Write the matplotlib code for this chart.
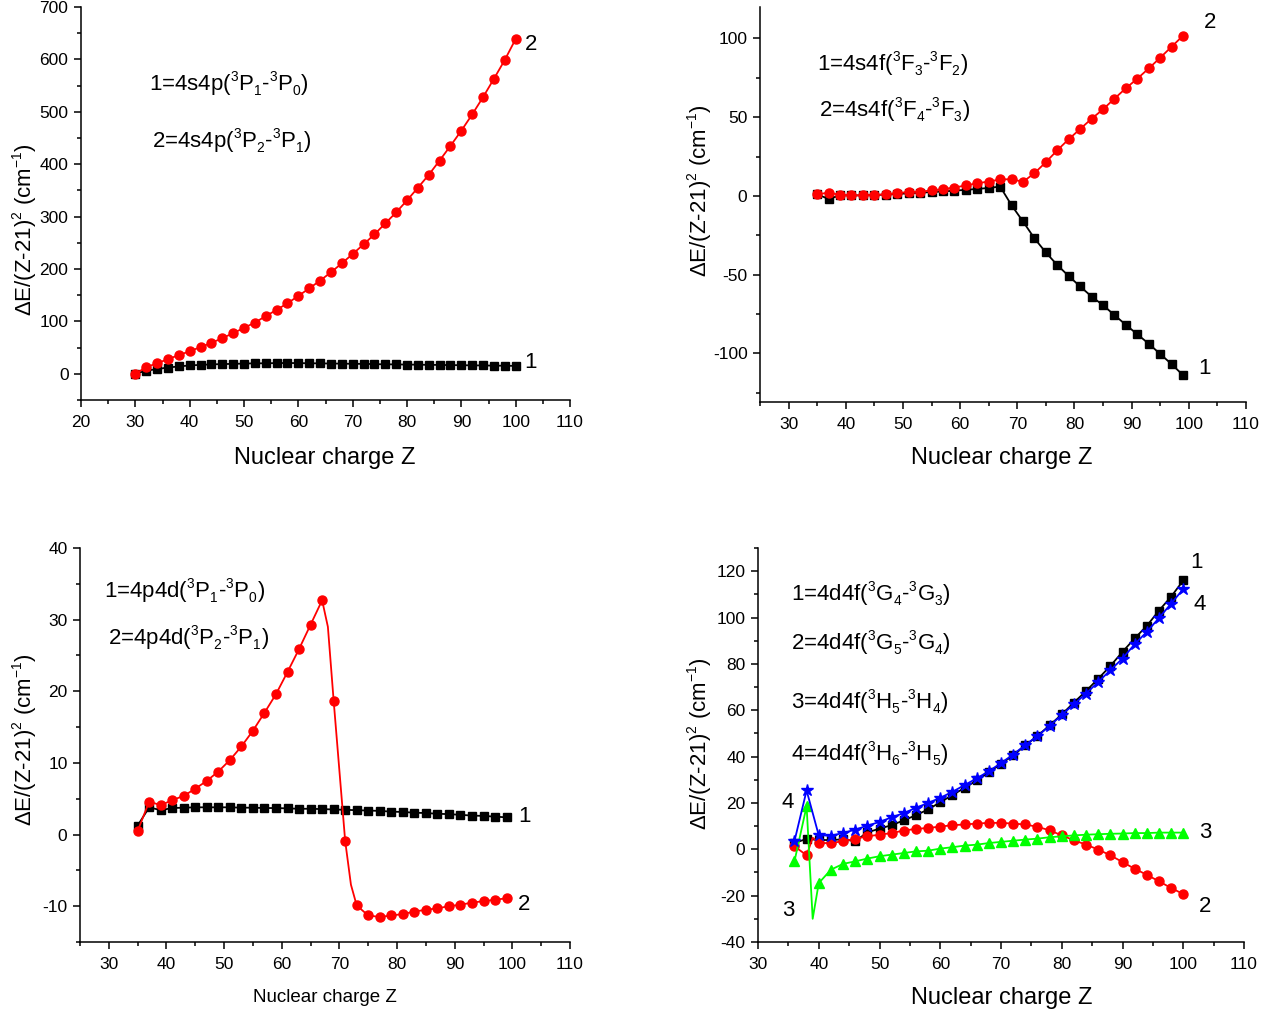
import numpy as np
import matplotlib
matplotlib.use("Agg")
import matplotlib.pyplot as plt
from matplotlib.ticker import MultipleLocator

plt.rcParams['font.family'] = ['Liberation Sans', 'DejaVu Sans']
plt.rcParams['mathtext.fontset'] = 'custom'
plt.rcParams['mathtext.rm'] = 'Liberation Sans'
plt.rcParams['mathtext.it'] = 'Liberation Sans'
plt.rcParams['mathtext.bf'] = 'Liberation Sans'
plt.rcParams['axes.unicode_minus'] = False

# Smaller, lower subscripts like the original (Origin-style)
try:
    import matplotlib._mathtext as _mt
    _mt.SHRINK_FACTOR = 0.62
    _mt.FontConstantsBase.sub1 = 0.42
    _mt.FontConstantsBase.sub2 = 0.6
    _mt.FontConstantsBase.sup1 = 0.78
except Exception:
    pass

# ---------------- Panel 1: 4s4p ----------------
z1 = list(range(30, 101, 2))
p1_s1 = [0, 6, 9, 12, 14, 16, 17, 18, 18.5, 19, 19.5, 20, 20, 20.5, 20.5, 20.5, 20, 20,
         19.5, 19.5, 19, 19, 18.5, 18, 18, 17.5, 17.5, 17, 17, 16.5, 16.5, 16, 16, 15.5, 15.5, 15]
p1_s2 = [0, 12.7, 20, 28, 35.6, 43, 51, 59, 68, 77.5, 87.6, 97.8, 110, 122, 134.6, 148.6,
         163, 177.8, 193.7, 210.8, 228.6, 247, 266, 287, 308, 331, 355, 379.7, 407, 435,
         464, 495, 528, 563, 599, 639]

# ---------------- Panel 2: 4s4f ----------------
z2 = list(range(35, 100, 2))
p2_s1 = [1, -2, 0.3, 0.3, 0.3, 0.5, 0.8, 1.2, 1.6, 2.0, 2.4, 2.8, 3.3, 3.8, 4.4, 5.0, 5.9,
         -6, -16.3, -27, -36, -44, -51, -57.6, -64, -69.5, -75.8, -82, -88, -94, -100.5, -107, -114]
p2_s2 = [1, 2, 0.6, 0.3, 0.3, 0.6, 1.0, 1.7, 2.5, 2.7, 3.4, 4.2, 5.3, 6.6, 8.0, 9.1, 10.4,
         10.6, 8.9, 14.4, 21.4, 29, 36, 42.5, 49, 55, 61.8, 68.4, 74.5, 81, 87.8, 94.8, 101.8]

# ---------------- Panel 3: 4p4d ----------------
z3 = list(range(35, 100, 2))
p3_s1 = [1.25, 3.8, 3.4, 3.7, 3.75, 3.8, 3.8, 3.8, 3.8, 3.75, 3.75, 3.7, 3.7, 3.65, 3.6, 3.6,
         3.55, 3.5, 3.45, 3.4, 3.35, 3.3, 3.2, 3.15, 3.05, 3.0, 2.9, 2.85, 2.75, 2.65, 2.6, 2.5, 2.4]
z3_s2 = [35, 37, 39, 41, 43, 45, 47, 49, 51, 53, 55, 57, 59, 61, 63, 65, 67, 68, 69, 71, 72,
         73, 75, 77, 79, 81, 83, 85, 87, 89, 91, 93, 95, 97, 99]
p3_s2 = [0.5, 4.6, 4.1, 4.8, 5.4, 6.4, 7.5, 8.8, 10.4, 12.3, 14.5, 17.0, 19.6, 22.7, 25.9, 29.3,
         32.7, 29.0, 18.7, -0.9, -7.0, -9.9, -11.3, -11.5, -11.3, -11.1, -10.75, -10.5, -10.3,
         -10.0, -9.8, -9.5, -9.3, -9.1, -8.9]

# ---------------- Panel 4: 4d4f ----------------
z4 = list(range(36, 101, 2))
p4_s1 = [2.7, 4.5, 4.0, 4.0, 4.3, 3.5, 7.3, 8.9, 10.4, 12.5, 14.7, 17.2, 20.3, 23.4, 26.5, 29.7,
         33.2, 36.9, 40.5, 44.8, 48.9, 53.5, 58.2, 63.3, 68.3, 73.6, 79.1, 85.2, 91.0, 96.4,
         103.0, 109.0, 116.0]
z4_s23 = [36, 38, 39] + list(range(40, 101, 2))
p4_s2 = [1.3, -2.6, 5.0, 2.7, 2.7, 3.5, 4.5, 5.6, 6.3, 7.0, 8.1, 8.8, 9.2, 9.8, 10.4, 10.7,
         11.1, 11.4, 11.4, 11.1, 10.7, 9.7, 8.2, 6.0, 3.9, 2.0, -0.1, -2.6, -5.5, -8.4, -11.0,
         -13.8, -16.7, -19.3]
p4_s3 = [-5.2, 18.6, -30.0, -14.6, -8.8, -6.3, -5.2, -4.0, -3.0, -2.3, -1.6, -0.9, -0.6, 0.3,
         0.9, 1.6, 2.0, 2.7, 3.2, 3.7, 4.2, 4.6, 5.2, 5.6, 6.0, 6.3, 6.5, 6.7, 6.8, 7.0, 7.0,
         7.2, 7.2, 7.2]
p4_s4 = [3.5, 25.4, 6.0, 5.9, 7.0, 8.5, 10.2, 11.8, 13.8, 15.6, 17.9, 20.0, 22.2, 24.8, 27.7,
         30.6, 33.7, 37.2, 40.9, 45.0, 48.9, 53.2, 58.0, 62.6, 67.2, 72.2, 77.3, 82.3, 88.5,
         93.8, 99.8, 106.0, 112.3]

ylabel = r'$\Delta$E/(Z-21)$^2$ (cm$^{-1}$)'
xlabel = 'Nuclear charge Z'

fig = plt.figure(figsize=(12.78, 10.14), dpi=100)
W, H = 1278, 1014


def fx(x):
    return x / W


def fy(y):
    return 1 - y / H


def make_ax(l, r, t, b):
    return fig.add_axes([l / W, 1 - b / H, (r - l) / W, (b - t) / H])


def style(ax, xlim, ylim, xmaj, ymaj, yminor):
    ax.set_xlim(*xlim)
    ax.set_ylim(*ylim)
    for s in ['top', 'right']:
        ax.spines[s].set_visible(False)
    for s in ['left', 'bottom']:
        ax.spines[s].set_linewidth(1.1)
    ax.xaxis.set_major_locator(MultipleLocator(xmaj))
    ax.xaxis.set_minor_locator(MultipleLocator(xmaj / 2))
    ax.yaxis.set_major_locator(MultipleLocator(ymaj))
    ax.yaxis.set_minor_locator(MultipleLocator(yminor))
    ax.tick_params(which='major', direction='out', length=5, width=1.1, labelsize=12.5)
    ax.tick_params(axis='x', which='major', pad=5.5)
    ax.tick_params(axis='y', which='major', pad=4)
    ax.tick_params(which='minor', direction='out', length=3, width=1.1)


def ftext(x, y, s, size=16, ha='left', rot=0):
    fig.text(fx(x), fy(y), s, fontsize=size, ha=ha, va='center', rotation=rot)


lkw = dict(lw=1.3, clip_on=False)
sq = dict(color='black', marker='s', ms=5.5)
ci = dict(color='red', marker='o', ms=6.5)

# Panel 1
ax1 = make_ax(81, 570, 7, 400)
style(ax1, (20, 110), (-50, 700), 10, 100, 50)
ax1.plot(z1, p1_s1, **sq, **lkw)
ax1.plot(z1, p1_s2, **ci, **lkw)
ftext(325, 458, xlabel, 17, 'center')
ftext(25, 230, ylabel, 16, 'center', 90)
ftext(149, 84, r'1=4s4p($^3$P$_1$-$^3$P$_0$)')
ftext(152, 141, r'2=4s4p($^3$P$_2$-$^3$P$_1$)')
ftext(531, 44, '2', 16, 'center')
ftext(531, 363, '1', 16, 'center')

# Panel 2
ax2 = make_ax(760, 1246, 7, 402)
style(ax2, (25, 110), (-131, 120), 10, 50, 25)
ax2.plot(z2, p2_s1, **sq, **lkw)
ax2.plot(z2, p2_s2, **ci, **lkw)
ftext(1002, 458, xlabel, 17, 'center')
ftext(700, 191, ylabel, 16, 'center', 90)
ftext(817, 64, r'1=4s4f($^3$F$_3$-$^3$F$_2$)')
ftext(819, 110, r'2=4s4f($^3$F$_4$-$^3$F$_3$)')
ftext(1210, 22, '2', 16, 'center')
ftext(1205, 368, '1', 16, 'center')

# Panel 3
ax3 = make_ax(80, 570, 548, 942)
style(ax3, (25, 110), (-15, 40), 10, 10, 5)
mask3 = [z % 2 == 1 for z in z3_s2]
ax3.plot(z3, p3_s1, **sq, **lkw)
ax3.plot(z3_s2, p3_s2, markevery=mask3, **ci, **lkw)
ftext(325, 997, xlabel, 13.5, 'center')
ftext(25, 740, ylabel, 16, 'center', 90)
ftext(104, 591, r'1=4p4d($^3$P$_1$-$^3$P$_0$)')
ftext(108, 638, r'2=4p4d($^3$P$_2$-$^3$P$_1$)')
ftext(525, 817, '1', 16, 'center')
ftext(524, 904, '2', 16, 'center')

# Panel 4
ax4 = make_ax(758, 1244, 548, 942)
style(ax4, (30, 110), (-40, 130), 10, 20, 10)
mask4 = [z % 2 == 0 for z in z4_s23]
ax4.plot(z4, p4_s1, **sq, **lkw)
ax4.plot(z4_s23, p4_s2, markevery=mask4, **ci, **lkw)
ax4.plot(z4_s23, p4_s3, markevery=mask4, color='#00ff00', marker='^', ms=7, **lkw)
ax4.plot(z4, p4_s4, color='#0000ff', marker='*', ms=9, **lkw)
ftext(1002, 998, xlabel, 17, 'center')
ftext(700, 744, ylabel, 16, 'center', 90)
for ty, txt in [(594, r'1=4d4f($^3$G$_4$-$^3$G$_3$)'), (643, r'2=4d4f($^3$G$_5$-$^3$G$_4$)'),
                (702, r'3=4d4f($^3$H$_5$-$^3$H$_4$)'), (754, r'4=4d4f($^3$H$_6$-$^3$H$_5$)')]:
    ftext(791, ty, txt)
for (tx, ty, t) in [(1196, 562, '1'), (1200, 604, '4'), (1205, 832, '3'), (1205, 907, '2'),
                    (788, 802, '4'), (788, 911, '3')]:
    ftext(tx, ty, t, 16, 'center')

fig.savefig('out.png', dpi=100)
